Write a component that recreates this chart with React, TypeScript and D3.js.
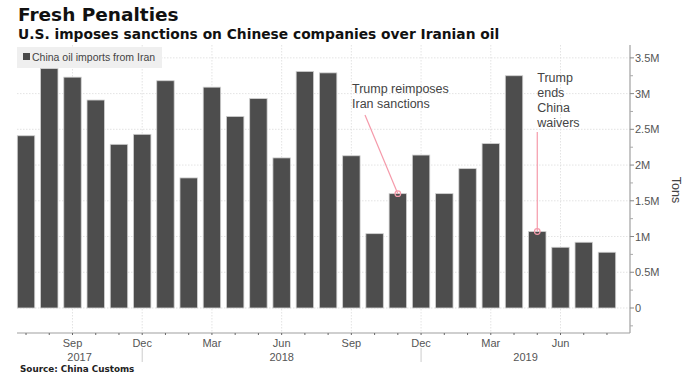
import React from 'react';
import * as d3 from 'd3';

// monthly imports, Jul 2017 .. Aug 2019
const months = [
  '2017-07', '2017-08', '2017-09', '2017-10', '2017-11', '2017-12',
  '2018-01', '2018-02', '2018-03', '2018-04', '2018-05', '2018-06',
  '2018-07', '2018-08', '2018-09', '2018-10', '2018-11', '2018-12',
  '2019-01', '2019-02', '2019-03', '2019-04', '2019-05', '2019-06',
  '2019-07', '2019-08',
];
const imports = [
  2410000, 3350000, 3230000, 2910000, 2290000, 2430000,
  3180000, 1820000, 3090000, 2680000, 2930000, 2100000,
  3310000, 3290000, 2130000, 1040000, 1600000, 2140000,
  1600000, 1950000, 2300000, 3250000, 1070000, 850000,
  920000, 780000,
];
const quarterTicks = ['2017-09', '2017-12', '2018-03', '2018-06', '2018-09', '2018-12', '2019-03', '2019-06'];
const quarterLabels = ['Sep', 'Dec', 'Mar', 'Jun', 'Sep', 'Dec', 'Mar', 'Jun'];
const yearBreaks = ['2017-12', '2018-12'];
const yearLabels = ['2017', '2018', '2019'];
const yTicks = [0, 500000, 1000000, 1500000, 2000000, 2500000, 3000000, 3500000];

const annotations = [
  { month: '2018-11', lines: ['Trump reimposes', 'Iran sanctions'] },
  { month: '2019-05', lines: ['Trump', 'ends', 'China', 'waivers'] },
];

const W = 686;
const H = 387;
const plot = { left: 17, right: 630, top: 45, bottom: 333 };
const FONT = '"Liberation Sans", Arial, sans-serif';
const HEAD = '"DejaVu Sans", Verdana, sans-serif';

const App = () => {
  const x = d3.scaleBand<string>()
    .domain(months)
    .range([14.4, 618.6])
    .paddingInner(0.25)
    .paddingOuter(0.125);
  const y = d3.scaleLinear()
    .domain([-350000, 3680000])
    .range([plot.bottom, plot.top]);

  const cx = (m: string) => (x(m) as number) + x.bandwidth() / 2;
  const fmt = (v: number) => (v === 0 ? '0' : `${d3.format('~g')(v / 1e6)}M`);
  const minorTicks = d3.range(-250000, 3700000, 500000);

  // year label centers: midway between break lines / axis ends
  const edges = [plot.left, ...yearBreaks.map(cx), plot.right];

  const ann1 = annotations[0];
  const ann2 = annotations[1];
  const a1x = cx(ann1.month);
  const a1y = y(imports[months.indexOf(ann1.month)]);
  const a2x = cx(ann2.month);
  const a2y = y(imports[months.indexOf(ann2.month)]);

  return (
    <svg width={W} height={H} style={{ position: 'absolute', left: 0, top: 0, background: '#fff' }}>
      <text x={18} y={21} fontFamily={HEAD} fontWeight="bold" fontSize={18.5} fill="#111">Fresh Penalties</text>
      <text x={18} y={39} fontFamily={HEAD} fontWeight="bold" fontSize={13.8} fill="#111">
        U.S. imposes sanctions on Chinese companies over Iranian oil
      </text>

      {/* grid */}
      <g stroke="#dcdcdc" strokeWidth={0.8} strokeDasharray="1.5,1.5">
        {yTicks.map(t => (
          <line key={t} x1={plot.left} x2={plot.right} y1={y(t)} y2={y(t)} />
        ))}
        {quarterTicks.map(m => (
          <line key={m} x1={cx(m)} x2={cx(m)} y1={plot.top} y2={plot.bottom} />
        ))}
      </g>

      {/* legend */}
      <rect x={17} y={47} width={145} height={21} fill="#efefef" />
      <rect x={23} y={53} width={7} height={7} fill="#4a4a4a" />
      <text x={32} y={61} fontFamily={FONT} fontSize={10.5} fill="#444">China oil imports from Iran</text>

      {/* bars */}
      <g>
        {months.map((m, i) => (
          <rect
            key={m}
            x={x(m)}
            y={y(imports[i])}
            width={x.bandwidth()}
            height={y(0) - y(imports[i])}
            fill="#4d4d4d"
            stroke="#d0d0d0"
            strokeWidth={0.8}
          />
        ))}
      </g>

      {/* right axis */}
      <g fontFamily={FONT} fontSize={11} fill="#555">
        <line x1={plot.right} x2={plot.right} y1={plot.top} y2={plot.bottom} stroke="#a0a0a0" strokeWidth={1.2} />
        {yTicks.map(t => (
          <g key={t}>
            <line x1={plot.right} x2={plot.right + 4} y1={y(t)} y2={y(t)} stroke="#888" />
            <text x={plot.right + 5} y={y(t) + 4}>{fmt(t)}</text>
          </g>
        ))}
        {minorTicks.map(t => (
          <line key={t} x1={plot.right} x2={plot.right + 3} y1={y(t)} y2={y(t)} stroke="#aaa" />
        ))}
        <text
          transform={`translate(672, ${(plot.top + plot.bottom) / 2 + 1}) rotate(90)`}
          textAnchor="middle"
          fontSize={12.5}
          fill="#444"
        >
          Tons
        </text>
      </g>

      {/* bottom axis */}
      <g fontFamily={FONT} fontSize={11} fill="#555">
        <line x1={plot.left} x2={plot.right} y1={plot.bottom} y2={plot.bottom} stroke="#a0a0a0" strokeWidth={1.2} />
        {months.map(m => (
          <line key={m} x1={cx(m)} x2={cx(m)} y1={plot.bottom} y2={plot.bottom + 2} stroke="#666" />
        ))}
        {quarterTicks.map((m, i) => (
          <text key={m} x={cx(m)} y={347} textAnchor="middle">{quarterLabels[i]}</text>
        ))}
        {yearBreaks.map(m => (
          <line key={m} x1={cx(m)} x2={cx(m)} y1={348} y2={362} stroke="#ccc" />
        ))}
        {yearLabels.map((yr, i) => (
          <text key={yr} x={(edges[i] + edges[i + 1]) / 2} y={361} textAnchor="middle">{yr}</text>
        ))}
      </g>

      {/* annotations */}
      <g fontFamily={FONT} fontSize={12.5} fill="#444">
        {ann1.lines.map((l, i) => (
          <text key={l} x={352} y={93 + i * 15}>{l}</text>
        ))}
        {ann2.lines.map((l, i) => (
          <text key={l} x={a2x} y={82 + i * 15}>{l}</text>
        ))}
      </g>
      <g stroke="#f59aaa" strokeWidth={1.2} fill="none">
        <line x1={365} y1={115} x2={a1x} y2={a1y} />
        <circle cx={a1x} cy={a1y} r={2.8} />
        <line x1={a2x} y1={132} x2={a2x} y2={a2y} />
        <circle cx={a2x} cy={a2y} r={2.8} />
      </g>

      <text x={20} y={372} fontFamily={HEAD} fontWeight="bold" fontSize={8.8} fill="#222">Source: China Customs</text>
    </svg>
  );
};

export default App;
